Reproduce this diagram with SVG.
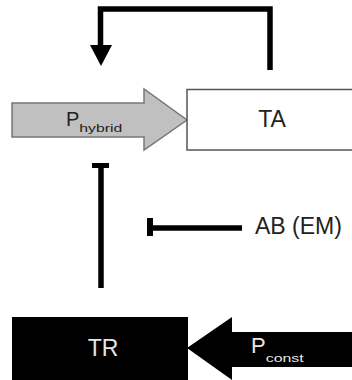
<svg xmlns="http://www.w3.org/2000/svg" width="352" height="380" viewBox="0 0 352 380">
<style>
text{font-family:"Liberation Sans",Arial,sans-serif}
.lbl{font-size:23px;fill:#222}
.wl{font-size:23px;fill:#e6e6e6}
.sub{font-size:11px}
.ln{fill:none;stroke:#000;stroke-width:5.5}
</style>
<rect width="352" height="380" fill="#fff"/>
<g id="connectors">
<path class="ln" d="M270,70 V9 H100.5 V48"/>
<polygon points="90,45 112,45 101,66" fill="#000"/>
<path class="ln" d="M101,288 V165"/>
<path d="M92,165.5 H109" stroke="#000" stroke-width="5"/>
<path class="ln" d="M242,228 H150"/>
<path d="M150,218 V236" stroke="#000" stroke-width="6"/>
</g>
<g id="Phybrid">
<polygon points="12,103 144,103 144,89 187,120 144,150 144,137 12,137" fill="#c0c0c0" stroke="#777" stroke-width="1.5"/>
<text x="66" y="126" font-size="20" fill="#222">P<tspan class="sub" dy="6" textLength="43" lengthAdjust="spacingAndGlyphs">hybrid</tspan></text>
</g>
<g id="TA">
<rect x="187" y="89.5" width="170" height="60.5" fill="#fff" stroke="#555" stroke-width="1.5"/>
<text class="lbl" x="272" y="127" text-anchor="middle">TA</text>
</g>
<g id="AB">
<text class="lbl" x="255" y="234">AB (EM)</text>
</g>
<g id="TR">
<rect x="12" y="317" width="176" height="63" fill="#000"/>
<text class="wl" x="103" y="356" text-anchor="middle">TR</text>
</g>
<g id="Pconst">
<polygon points="187,348 232,317 232,332 352,332 352,367 232,367 232,380 187,348" fill="#000"/>
<text x="251" y="353" font-size="22" fill="#e6e6e6">P<tspan class="sub" dy="9" textLength="38" lengthAdjust="spacingAndGlyphs">const</tspan></text>
</g>
</svg>
